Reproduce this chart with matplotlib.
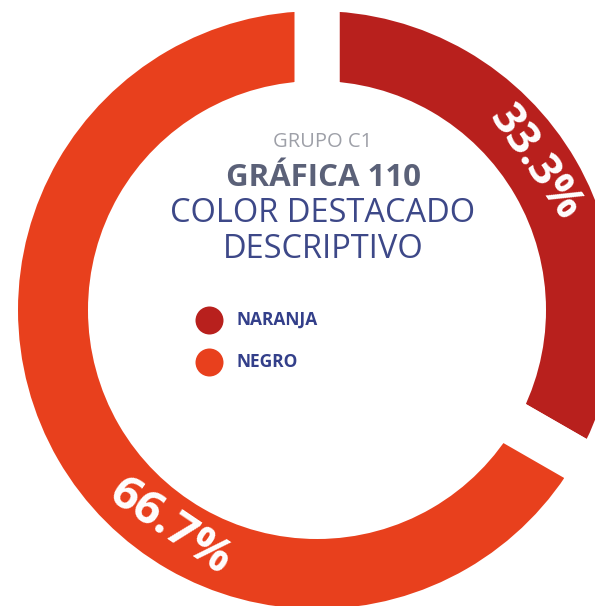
import matplotlib
matplotlib.use("Agg")
import matplotlib.pyplot as plt
import numpy as np

# Data
categories = ["NARANJA", "NEGRO"]
values = [33.3, 66.7]
value_labels = ["33.3%", "66.7%"]
colors = ["#B8201D", "#E8401D"]

W, H = 595, 606
DPI = 100
fig = plt.figure(figsize=(W / DPI, H / DPI), dpi=DPI)
ax = fig.add_axes([0, 0, 1, 1])

cx, cy = 317, H - 310
R, ring = 299, 70
gap = 45  # px
lw_pt = gap * 72 / DPI

ax.pie(values, colors=colors, startangle=90, counterclock=False,
       radius=R + gap / 2, center=(cx, cy),
       wedgeprops=dict(width=ring + gap, edgecolor="white", linewidth=lw_pt))
ax.set_xlim(0, W)
ax.set_ylim(0, H)
ax.set_aspect("equal")
ax.axis("off")

# Percentage labels along the ring
label_angles = [34, -124]
label_rot = [-55, -34]
label_size = [32, 34]
mid_r = R - ring / 2
for lab, a, rot, fs in zip(value_labels, label_angles, label_rot, label_size):
    t = np.deg2rad(a)
    ax.text(cx + (mid_r - 2) * np.cos(t), cy + (mid_r - 2) * np.sin(t), lab,
            rotation=rot, rotation_mode="anchor", ha="center", va="center",
            color="white", fontsize=fs, fontweight="bold", family="Open Sans",
            zorder=5)

# Center titles
tx = 323
ax.text(tx, H - 142, "GRUPO C1", ha="center", va="center", color="#9EA0A8",
        fontsize=14.5, family="Open Sans", zorder=5)
ax.text(tx, H - 178, "GRÁFICA 110", ha="center", va="center", color="#5B6178",
        fontsize=22.5, fontweight="bold", family="Open Sans", zorder=5)
ax.text(tx, H - 214, "COLOR DESTACADO", ha="center", va="center", color="#3D4888",
        fontsize=23.5, family="Open Sans", zorder=5)
ax.text(tx, H - 250, "DESCRIPTIVO", ha="center", va="center", color="#3D4888",
        fontsize=23.5, family="Open Sans", zorder=5)

# Legend
leg_y = [320, 362]
for cat, col, y in zip(categories, colors, leg_y):
    ax.scatter([209], [H - y], s=(28 * 72 / DPI) ** 2, color=col, zorder=6,
               linewidths=0)
    ax.text(237, H - y, cat, ha="left", va="center", color="#333F8A",
            fontsize=12.5, fontweight="bold", family="Open Sans", zorder=6)

fig.savefig("out.png", dpi=DPI)
